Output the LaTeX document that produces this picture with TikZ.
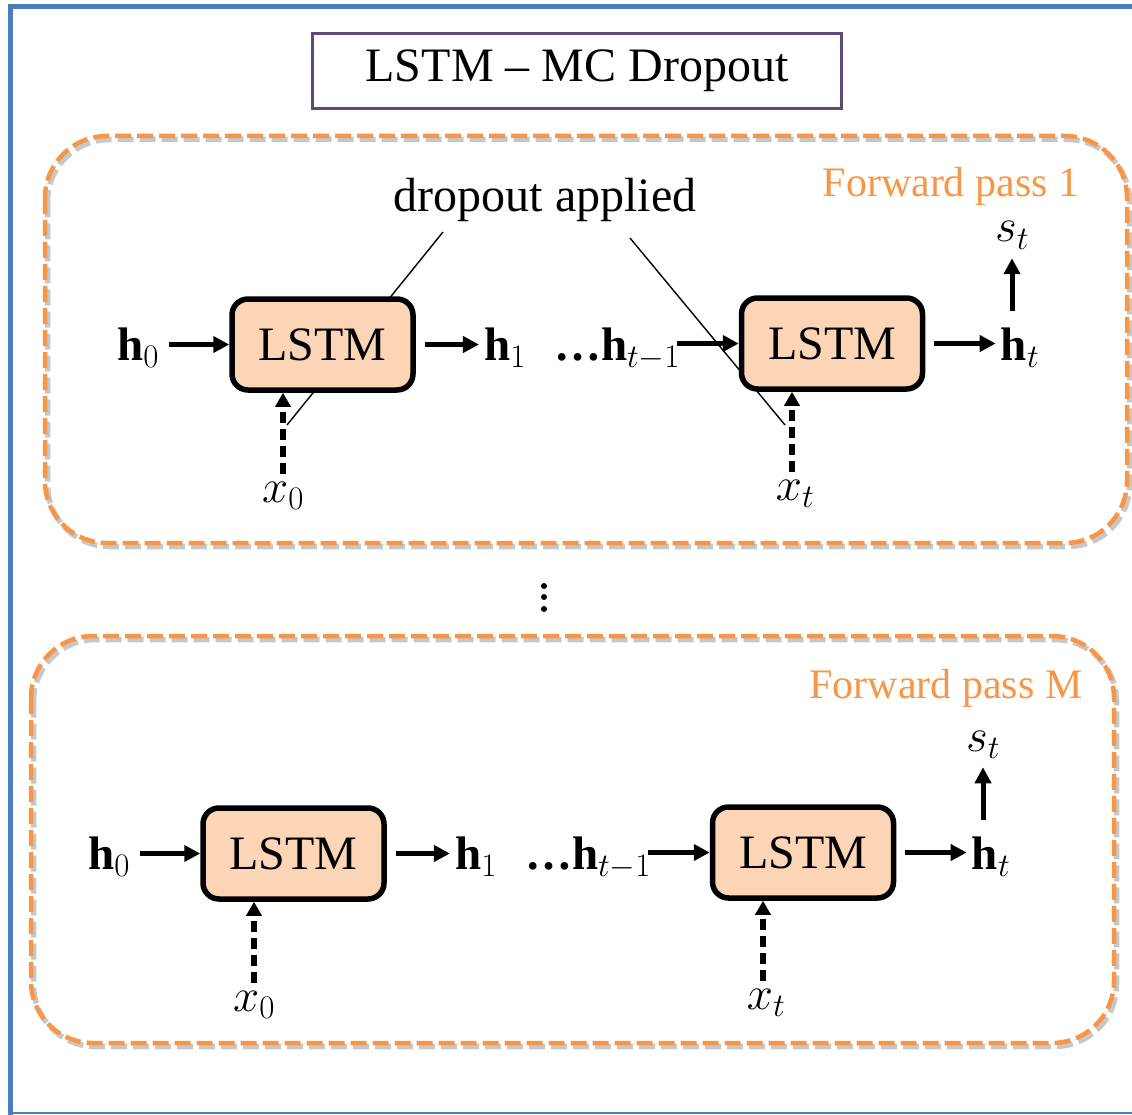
\documentclass[tikz,border=0pt]{standalone}
\usepackage{fix-cm}
\usepackage{amsmath}
\usepackage{fontspec}
\setmainfont{Liberation Serif}
\usetikzlibrary{arrows.meta}
\definecolor{frameblue}{HTML}{4A7EBB}
\definecolor{titlepurple}{HTML}{5F497A}
\definecolor{passorange}{HTML}{F79646}
\definecolor{cellfill}{HTML}{FBD5B5}
\newcommand\fsz[1]{\fontsize{#1}{#1}\selectfont}

\tikzset{
  cell/.style={draw,line width=5.5pt,rounded corners=16pt,fill=cellfill,
    minimum width=181pt,minimum height=91pt,inner sep=0pt,font=\fsz{48}},
  lab/.style={inner sep=0pt,font=\fsz{47}},
  arr/.style={line width=5pt,-{Triangle[length=16pt,width=16pt]}},
  darr/.style={line width=5.5pt,-{Triangle[length=14pt,width=15pt]},dash pattern=on 11pt off 6pt},
  passbox/.style={draw=passorange,line width=4.5pt,dash pattern=on 16pt off 6pt,rounded corners=62pt},
  passshadow/.style={draw=black,line width=5.5pt,opacity=0.22,dash pattern=on 16pt off 6pt,rounded corners=62pt},
  passlabel/.style={text=passorange,font=\fsz{42},inner sep=0pt,anchor=base},
  hint/.style={line width=1.4pt},
  % one unrolled LSTM chain with its inputs and outputs
  lstmrow/.pic={
    \node[cell] (b1) at (322.5,344.5) {LSTM};
    \node[cell] (b2) at (832,343.5) {LSTM};
    \node[lab,anchor=base] (h0) at (138,360) {$\mathbf{h}_0$};
    \node[lab,anchor=base] (h1) at (505,360) {$\mathbf{h}_1$};
    \node[lab,anchor=base] (hm) at (617,360) {{\bfseries …}$\mathbf{h}_{t-1}$};
    \node[lab,anchor=base] (ht) at (1020,360) {$\mathbf{h}_t$};
    \node[lab,anchor=base] (st) at (1012,242) {$s_t$};
    \node[lab,anchor=base] (x0) at (283,502) {$x_0$};
    \node[lab,anchor=base] (xt) at (795,500) {$x_t$};
    \draw[arr] ([xshift=10pt]h0.east |- b1.west) -- (b1.west);
    \draw[arr] ([xshift=9pt]b1.east) -- ([xshift=-5pt]h1.west |- b1.east);
    \draw[arr] ([xshift=-3pt]hm.east |- b2.west) -- (b2.west);
    \draw[arr] ([xshift=9pt]b2.east) -- ([xshift=-5pt]ht.west |- b2.east);
    \draw[arr] ([yshift=16pt]st.south |- ht.north) -- ([yshift=-9pt]st.south);
    \draw[darr] ([yshift=8pt]x0.north) -- (x0.north |- b1.south);
    \draw[darr] ([xshift=-3pt,yshift=8pt]xt.north) -- ([xshift=-3pt]xt.north |- b2.south);
  }
}

\begin{document}
\begin{tikzpicture}[x=1pt,y=-1pt]
\useasboundingbox (0,0) rectangle (1132,1115);

% outer frame
\draw[frameblue,line width=5pt] (10.5,1118) -- (10.5,6.5) -- (1135,6.5);
\draw[frameblue,line width=2pt] (8,1113) -- (1135,1113);

% title
\node[draw=titlepurple,line width=3.5pt,minimum width=529pt,minimum height=75pt,
  inner sep=0pt,font=\fsz{48}] (title) at (577,71) {LSTM – MC Dropout};

% forward pass panels, each with a soft offset shadow
\draw[passshadow] (47.5,139.5) rectangle (1129.5,546.5);
\draw[passbox] (45,136) rectangle (1127,543);
\draw[passshadow] (33.5,639.5) rectangle (1116.5,1046.5);
\draw[passbox] (31,636) rectangle (1114,1043);
\node[passlabel] (fp1) at (951,197) {Forward pass 1};
\node[passlabel] (fpm) at (946,698) {Forward pass M};

% dropout annotation
\node[inner sep=0pt,anchor=base,font=\fsz{48}] (drop) at (545,212) {dropout applied};
\coordinate (da) at (443,232);
\coordinate (dae) at (287,425);
\coordinate (db) at (630,238);
\coordinate (dbe) at (785,425);
\draw[hint] (da) -- (dae);
\draw[hint] (db) -- (dbe);

% the two passes
\pic (p) at (0,0) {lstmrow};
\pic (q) at (-29,509) {lstmrow};

% more passes in between
\fill (544,586) circle (3pt) (544,597) circle (3pt) (544,609) circle (3pt);
\end{tikzpicture}
\end{document}
